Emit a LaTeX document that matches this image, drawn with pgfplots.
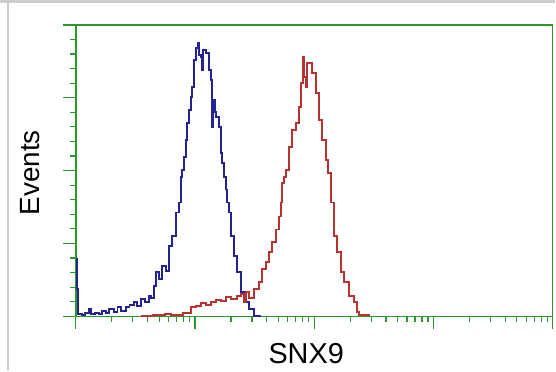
\documentclass[border=0pt]{standalone}
\usepackage{pgfplots}
\pgfplotsset{compat=1.18}
\usepackage{fontspec}
\setmainfont{Liberation Sans}
\definecolor{axgreen}{RGB}{45,150,45}
\definecolor{bluec}{RGB}{35,35,145}
\definecolor{redc}{RGB}{185,50,50}
\definecolor{frame}{RGB}{205,205,205}
\begin{document}
\begin{tikzpicture}
\begin{axis}[
  at={(0,0)}, anchor=south west,
  scale only axis, width=478bp, height=292bp,
  xmin=0, xmax=4, ymin=0, ymax=292,
  xtick={0,1,2,3,4}, ytick={0,73,146,219,292},
  minor xtick={0.301,0.477,0.602,0.699,0.778,0.845,0.903,0.954,
               1.301,1.477,1.602,1.699,1.778,1.845,1.903,1.954,
               2.301,2.477,2.602,2.699,2.778,2.845,2.903,2.954,
               3.301,3.477,3.602,3.699,3.778,3.845,3.903,3.954},
  minor y tick num=4,
  xticklabels={}, yticklabels={},
  tick pos=left, tick align=outside,
  major tick length=13bp, minor tick length=6bp,
  tick style={axgreen, line width=1.2bp},
  axis line style={axgreen, line width=1.5bp},
  clip=false,
]
\addplot[const plot, bluec, line width=1.9bp] coordinates {
(0,57) (0.0084,27) (0.0168,2) (0.05,1) (0.08,3) (0.109,7) (0.13,2) (0.16,3)
(0.193,2) (0.22,5) (0.25,3) (0.28,7) (0.319,4) (0.35,9) (0.38,5) (0.419,9)
(0.45,11) (0.486,14) (0.51,10) (0.545,17) (0.58,14) (0.612,20) (0.63,18)
(0.654,30) (0.671,44) (0.696,37) (0.72,50) (0.738,50) (0.76,45) (0.780,70)
(0.805,80) (0.839,104) (0.864,114) (0.880,140) (0.889,147) (0.905,160)
(0.922,177) (0.931,194) (0.948,207) (0.964,220) (0.973,230) (0.990,257)
(1.006,269) (1.023,274) (1.035,262) (1.048,260) (1.057,247) (1.065,267)
(1.073,267) (1.090,264) (1.099,264) (1.115,247) (1.132,237) (1.140,190)
(1.150,217) (1.165,205) (1.174,200) (1.199,190) (1.216,164) (1.224,154)
(1.241,140) (1.258,127) (1.266,114) (1.283,104) (1.300,80) (1.325,60)
(1.350,44) (1.384,24) (1.409,14) (1.451,7) (1.493,0) (1.55,0)
};
\addplot[const plot, redc, line width=1.9bp] coordinates {
(0.545,0) (0.65,1) (0.75,2) (0.8,1) (0.9,3) (0.964,9) (1.006,10) (1.05,13)
(1.09,11) (1.132,14) (1.174,16) (1.22,15) (1.26,19) (1.30,17) (1.35,20)
(1.384,22) (1.409,14) (1.43,24) (1.451,18) (1.493,27) (1.535,34) (1.560,47)
(1.593,54) (1.618,64) (1.644,74) (1.677,87) (1.702,100) (1.719,114)
(1.727,134) (1.744,140) (1.761,147) (1.786,170) (1.811,187) (1.845,194)
(1.870,210) (1.887,234) (1.904,260) (1.917,240) (1.929,230) (1.940,254)
(1.954,254) (1.979,244) (2.013,224) (2.038,197) (2.063,177) (2.096,157)
(2.113,144) (2.138,114) (2.164,80) (2.189,64) (2.222,44) (2.247,34)
(2.289,20) (2.331,14) (2.356,4) (2.373,1) (2.457,0)
};
\node[font=\fontsize{28}{32}\selectfont, rotate=90] at (axis description cs:-0.096,0.493) {Events};
\node[font=\fontsize{29}{32}\selectfont] at (axis description cs:0.483,-0.128) {SNX9};
\end{axis}
\fill[frame] (-76bp,314bp) rectangle (480bp,317bp);
\fill[frame] (-69bp,-55bp) rectangle (-67bp,314bp);
\path[use as bounding box] (-76bp,-55bp) rectangle (480bp,317bp);
\end{tikzpicture}
\end{document}
